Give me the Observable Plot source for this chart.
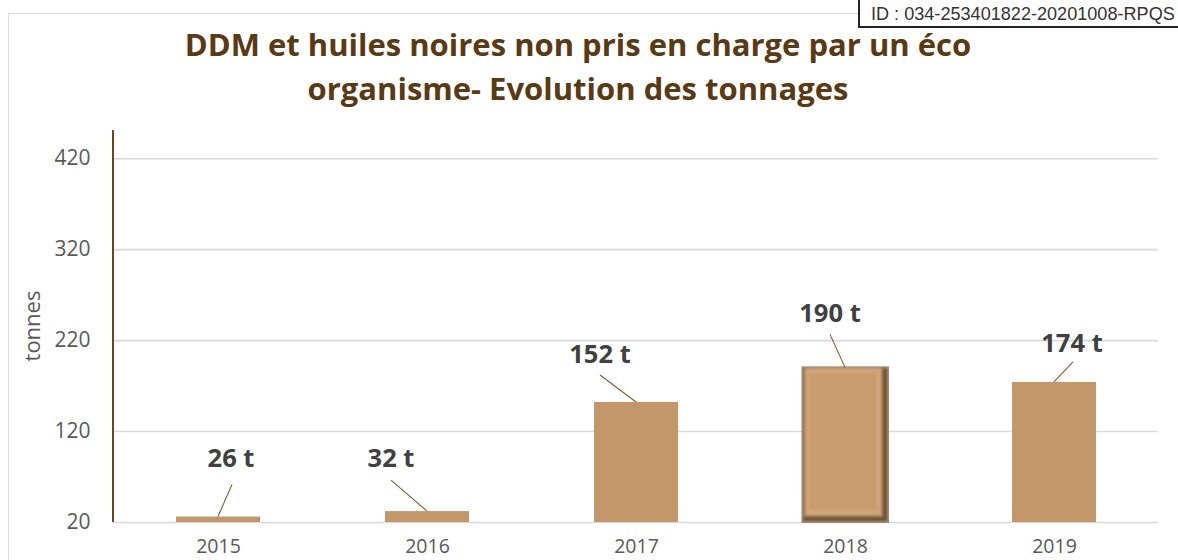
<!DOCTYPE html>
<html><head><meta charset="utf-8">
<script src="https://cdn.jsdelivr.net/npm/d3@7"></script>
<script src="https://cdn.jsdelivr.net/npm/@observablehq/plot@0.6"></script>
<style>
html,body{margin:0;padding:0;background:#fff;}
#wrap{position:relative;width:1178px;height:560px;overflow:hidden;font-family:"Open Sans",sans-serif;}
#frame{position:absolute;left:8px;top:13px;width:1300px;height:700px;border:1.5px solid #d9d9d9;box-sizing:border-box;}
#title{position:absolute;left:0;top:22px;width:1156px;text-align:center;font:bold 31px "Open Sans",sans-serif;color:#5a3a14;line-height:44px;}
#ytitle{position:absolute;left:31px;top:326px;transform:translate(-50%,-50%) rotate(-90deg);font:22px "Open Sans",sans-serif;color:#595959;white-space:nowrap;}
#id{position:absolute;left:858px;top:-4px;width:340px;height:32px;border:2px solid #222;background:#fff;box-sizing:border-box;font:18.1px "Liberation Sans",Arial,sans-serif;color:#333;padding:6px 0 0 11px;white-space:nowrap;}
#chart{position:absolute;left:0;top:0;}
</style></head>
<body><div id="wrap"><div id="frame"></div><div id="chart"></div>
<div id="title">DDM et huiles noires non pris en charge par un éco<br>organisme- Evolution des tonnages</div>
<div id="ytitle">tonnes</div>
<div id="id">ID : 034-253401822-20201008-RPQS</div></div>
<script>
const years = ["2015","2016","2017","2018","2019"];
const tonnes = [26, 32, 152, 190, 174];
const labels = ["26 t","32 t","152 t","190 t","174 t"];
const yTicks = [20, 120, 220, 320, 420];
// label placement offsets (px) relative to bar top centre: [label dx, label dy(baseline), line start dy]
const labelOffsets = [[13,-50,-32],[-36,-44,-31],[-36,-39,-27],[-15,-45,-33],[18,-30,-20]];

const data = years.map((y,i)=>({year:y, value:tonnes[i], label:labels[i], off:labelOffsets[i], bevel: y==="2018"}));

function axisLineMark(){
  return Plot.dot([0], {x:()=>years[0], y:()=>20, r:0, render(index, scales, values, dims){
    const g = d3.create("svg:g");
    const x = dims.marginLeft;
    g.append("line").attr("x1",x).attr("x2",x).attr("y1",scales.y(451)).attr("y2",scales.y(20))
      .attr("stroke","#6b4524").attr("stroke-width",2);
    return g.node();
  }});
}

function leaderMark(){
  return Plot.dot(data, {x:"year", y:"value", r:0, render(index, scales){
    const g = d3.create("svg:g");
    const bw = scales.x.bandwidth();
    for (const i of index){
      const d = data[i];
      const cx = scales.x(d.year) + bw/2, cy = scales.y(d.value);
      const [dx, dy, ly] = d.off;
      g.append("line").attr("x1", cx+dx+(dx>0?1:0)).attr("y1", cy+ly).attr("x2", cx).attr("y2", cy)
        .attr("stroke","#8b5a2b").attr("stroke-width",1.1);
      g.append("text").attr("x", cx+dx).attr("y", cy+dy).attr("text-anchor","middle")
        .attr("font-family","'Open Sans', sans-serif").attr("font-weight","bold").attr("font-size",25.5)
        .attr("fill","#404040").text(d.label);
    }
    return g.node();
  }});
}

function bevelMark(){
  const bd = data.filter(d=>d.bevel);
  return Plot.dot(bd, {x:"year", y:"value", r:0, render(index, scales){
    const g = d3.create("svg:g");
    const bw = scales.x.bandwidth();
    const defs = g.append("defs");
    defs.append("filter").attr("id","soft").append("feGaussianBlur").attr("stdDeviation",1.2);
    for (const i of index){
      const d = bd[i];
      const x0 = scales.x(d.year)-1.5, w = bw+3.5;
      const y0 = scales.y(d.value)-1, y1 = scales.y(20)+1;
      const h = y1-y0;
      g.append("rect").attr("x",x0).attr("y",y0).attr("width",w).attr("height",h).attr("fill","#a48d72");
      const s = g.append("g").attr("filter","url(#soft)");
      s.append("rect").attr("x",x0+2).attr("y",y0+2).attr("width",w-4).attr("height",h-4).attr("fill","#6f5234");
      s.append("rect").attr("x",x0+2).attr("y",y0+2).attr("width",w-8).attr("height",h-8).attr("fill","#a57e56");
      s.append("rect").attr("x",x0+4).attr("y",y0+2).attr("width",w-12).attr("height",h-10).attr("fill","#d0a67c");
      s.append("rect").attr("x",x0+8).attr("y",y0+7).attr("width",w-20).attr("height",h-20).attr("fill","#c99c6f");
    }
    return g.node();
  }});
}

const chart = Plot.plot({
  width:1178, height:560,
  marginLeft:113, marginRight:20, marginTop:130, marginBottom:38,
  style:{background:"transparent", fontFamily:"'Open Sans', sans-serif"},
  x:{domain:years, type:"band", paddingInner:0.6, paddingOuter:0.3, label:null, axis:null},
  y:{domain:[20,451], label:null, axis:null},
  marks:[
    Plot.gridY(yTicks, {stroke:"#d9d9d9", strokeOpacity:1, strokeWidth:1.6}),
    Plot.barY(data.filter(d=>!d.bevel), {x:"year", y1:()=>20, y2:"value", fill:"#c3976a"}),
    bevelMark(),
    axisLineMark(),
    Plot.axisY(yTicks, {tickSize:0, tickPadding:23, fontSize:21, fill:"#595959", label:null}),
    Plot.axisX(years, {tickSize:0, tickPadding:17, fontSize:19.5, fill:"#595959", label:null}),
    leaderMark()
  ]
});
document.getElementById("chart").appendChild(chart);
</script></body></html>
